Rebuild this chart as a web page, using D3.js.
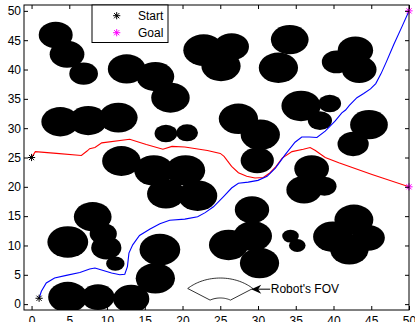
<!DOCTYPE html>
<html>
<head>
<meta charset="utf-8">
<script src="https://cdn.jsdelivr.net/npm/d3@7"></script>
<style>
  body { margin: 0; background: #fff; }
  text { font-family: "Liberation Sans", Arial, sans-serif; font-size: 12px; fill: #000; }
</style>
</head>
<body>
<div id="chart"></div>
<script>
// axis ticks
const xTicks = [0, 5, 10, 15, 20, 25, 30, 35, 40, 45, 50];
const yTicks = [0, 5, 10, 15, 20, 25, 30, 35, 40, 45, 50];

// obstacles (circles in data units)
const obsX = [3.2, 4.7, 6.9, 12.6, 16.4, 18.4, 22.8, 26.5, 25.1, 34.2, 32.7, 42.9, 40.4, 43.4,
  3.8, 7.5, 11.5, 17.8, 20.6, 11.9, 16.2, 20.4, 17.8, 22.0, 27.4, 30.3, 29.9, 35.7, 39.5, 38.2,
  44.7, 42.6, 37.1, 36.1, 38.8, 29.2, 26.1, 29.3, 30.2, 34.3, 35.2, 42.7, 39.9, 44.6, 42.1,
  4.8, 8.1, 9.5, 9.9, 11.1, 17.0, 16.4, 4.8, 8.8, 13.2];
const obsY = [45.9, 42.6, 39.3, 40.1, 38.8, 35.2, 43.3, 43.9, 40.6, 45.1, 40.3, 43.3, 41.3, 40.0,
  31.1, 31.3, 31.8, 29.1, 29.2, 24.4, 22.8, 22.8, 18.8, 18.5, 31.6, 28.9, 24.5, 33.8, 34.2, 31.3,
  30.6, 27.3, 23.1, 19.5, 20.1, 16.1, 10.1, 11.6, 7.0, 11.6, 10.0, 14.4, 11.5, 11.3, 9.3,
  10.6, 14.9, 12.0, 9.6, 6.9, 9.3, 4.4, 1.2, 1.2, 0.9];
const obsR = [2.25, 2.3, 1.9, 2.5, 2.5, 2.55, 2.7, 2.3, 2.6, 2.5, 2.6, 2.35, 1.95, 2.3,
  2.5, 2.5, 2.55, 1.5, 1.45, 2.55, 2.6, 2.6, 2.5, 2.6, 2.6, 2.6, 2.2, 2.6, 1.5, 1.6,
  2.5, 2.07, 2.3, 2.35, 1.6, 2.28, 2.6, 2.55, 2.6, 1.1, 1.1, 2.58, 2.6, 2.2, 2.55,
  2.7, 2.5, 1.8, 2.0, 1.22, 2.7, 2.6, 2.6, 2.2, 2.4];

// blue path (start 1,1 -> goal 50,50)
const blueX = [1, 1.3, 1.95, 3.05, 4.6, 6.4, 7.7, 8.4, 9.5, 10.6, 11.7, 12.35, 12.7, 12.9, 13.4, 14.3,
  15.7, 17.0, 18.3, 20.3, 22.0, 23.0, 24.1, 25.4, 26.5, 27.4, 28.7, 30.0, 31.2, 32.3, 33.6, 34.9,
  35.8, 36.8, 37.8, 38.9, 40.2, 41.1, 41.6, 42.1, 43.1, 44.0, 44.9, 45.6, 46.3, 47.0, 48.0, 49.1, 50];
const blueY = [1, 2.2, 3.6, 4.45, 4.9, 5.4, 6.0, 6.15, 5.75, 5.3, 5.0, 5.1, 6.4, 8.7, 10.1, 11.7,
  12.8, 13.7, 14.3, 14.5, 14.9, 15.6, 16.6, 18.3, 19.8, 20.6, 20.8, 21.1, 21.8, 23.2, 25.5, 27.6,
  28.5, 28.5, 28.4, 29.5, 31.2, 32.6, 33.1, 33.9, 35.2, 35.9, 36.7, 37.6, 39.3, 41.3, 44.3, 47.4, 50];

// red path (start 0,25 -> goal 50,20)
const redX = [0, 0.5, 3.3, 6.6, 7.35, 7.7, 8.4, 9.3, 13.0, 15.2, 17.4, 18.6, 20.3, 23.3, 25.0, 25.5,
  25.9, 26.5, 27.4, 28.5, 29.6, 30.7, 31.6, 32.4, 33.2, 34.5, 36.0, 36.9, 37.6, 38.9, 40.7, 45.1, 50];
const redY = [25, 26.0, 25.7, 25.35, 26.1, 26.5, 26.7, 27.5, 28.1, 27.2, 26.4, 26.9, 26.8, 26.2, 25.7, 25.2,
  24.5, 23.5, 22.4, 21.8, 21.5, 21.6, 22.4, 23.5, 24.9, 26.0, 26.4, 26.7, 26.2, 25.0, 24.1, 22.1, 20];

const startX = [1, 0], startY = [1, 25];
const goalX = [50, 50], goalY = [50, 20];

const legendLabels = ["Start", "Goal"];
const legendColors = ["#000000", "#ff00ff"];

// robot field of view (annular sector)
const fovCenter = [25, -1.65];
const fovOuter = 6.1, fovInner = 2.7;
const fovOuterAngles = [45, 135], fovInnerAngles = [60, 120];
const fovLabel = "Robot's FOV";

const width = 415, height = 322;
const m = { left: 24, right: 409, top: 5, bottom: 310 };

const svg = d3.select("#chart").append("svg")
  .attr("width", width)
  .attr("height", height);

const x = d3.scaleLinear().domain([-1, 50]).range([m.left, m.right]);
const y = d3.scaleLinear().domain([-1, 51]).range([m.bottom, m.top]);

svg.append("clipPath").attr("id", "plotclip")
  .append("rect")
  .attr("x", m.left).attr("y", m.top)
  .attr("width", m.right - m.left).attr("height", m.bottom - m.top);

const plot = svg.append("g").attr("clip-path", "url(#plotclip)");

// obstacles
plot.selectAll("ellipse.obs")
  .data(d3.range(obsX.length))
  .join("ellipse")
  .attr("class", "obs")
  .attr("cx", i => x(obsX[i]))
  .attr("cy", i => y(obsY[i]))
  .attr("rx", i => x(obsR[i]) - x(0))
  .attr("ry", i => y(0) - y(obsR[i]))
  .attr("fill", "#000");

// paths
const line = d3.line().x(d => x(d[0])).y(d => y(d[1]));
plot.append("path")
  .attr("d", line(d3.zip(redX, redY)))
  .attr("fill", "none").attr("stroke", "#ff0000").attr("stroke-width", 1.1);
plot.append("path")
  .attr("d", line(d3.zip(blueX, blueY)))
  .attr("fill", "none").attr("stroke", "#0000ff").attr("stroke-width", 1.1);

// FOV shape
function arcPts(r, a0, a1, n) {
  return d3.range(n + 1).map(k => {
    const a = (a0 + (a1 - a0) * k / n) * Math.PI / 180;
    return [fovCenter[0] + r * Math.cos(a), fovCenter[1] + r * Math.sin(a)];
  });
}
const fovPts = arcPts(fovOuter, fovOuterAngles[0], fovOuterAngles[1], 40)
  .concat(arcPts(fovInner, fovInnerAngles[1], fovInnerAngles[0], 20));
svg.append("path")
  .attr("d", line(fovPts) + "Z")
  .attr("fill", "none").attr("stroke", "#000").attr("stroke-width", 0.8);

// asterisk markers
function asterisk(g, cx, cy, color) {
  const s = 3.6, d = s * 0.72;
  g.append("path")
    .attr("d", `M${cx - s},${cy}L${cx + s},${cy}M${cx},${cy - s}L${cx},${cy + s}` +
      `M${cx - d},${cy - d}L${cx + d},${cy + d}M${cx - d},${cy + d}L${cx + d},${cy - d}`)
    .attr("stroke", color).attr("stroke-width", 1).attr("fill", "none");
}
startX.forEach((v, i) => asterisk(svg, x(v), y(startY[i]), legendColors[0]));
goalX.forEach((v, i) => asterisk(svg, x(v), y(goalY[i]), legendColors[1]));

// axes (MATLAB-style box, ticks inward)
svg.append("g")
  .attr("transform", `translate(0,${m.bottom})`)
  .call(d3.axisBottom(x).tickValues(xTicks).tickSizeInner(-4).tickSizeOuter(0).tickPadding(6))
  .call(g => g.select(".domain").remove());
svg.append("g")
  .attr("transform", `translate(${m.left},0)`)
  .call(d3.axisLeft(y).tickValues(yTicks).tickSizeInner(-4).tickSizeOuter(0).tickPadding(3))
  .call(g => g.select(".domain").remove());
svg.append("g")
  .attr("transform", `translate(0,${m.top})`)
  .call(d3.axisTop(x).tickValues(xTicks).tickSizeInner(-4).tickSizeOuter(0).tickFormat(""))
  .call(g => g.select(".domain").remove());
svg.append("g")
  .attr("transform", `translate(${m.right},0)`)
  .call(d3.axisRight(y).tickValues(yTicks).tickSizeInner(-4).tickSizeOuter(0).tickFormat(""))
  .call(g => g.select(".domain").remove());
svg.selectAll(".tick line").attr("stroke", "#000");
svg.selectAll(".tick text").style("font-size", "12px").style("font-family", "Liberation Sans, Arial, sans-serif");

svg.append("rect")
  .attr("x", m.left).attr("y", m.top)
  .attr("width", m.right - m.left).attr("height", m.bottom - m.top)
  .attr("fill", "none").attr("stroke", "#000").attr("stroke-width", 1);

// legend
const lg = svg.append("g");
lg.append("rect")
  .attr("x", 92).attr("y", 5).attr("width", 76).attr("height", 37.5)
  .attr("fill", "#fff").attr("stroke", "#000").attr("stroke-width", 1);
legendLabels.forEach((lab, i) => {
  const ly = 15.7 + i * 17;
  asterisk(lg, 116.7, ly, legendColors[i]);
  lg.append("text").attr("x", 138).attr("y", ly).attr("dy", "0.35em").text(lab);
});

// annotation arrow + label
const ax = x(29.1), ay = y(2.55);
svg.append("path")
  .attr("d", `M${ax},${ay}L${ax + 10},${ay - 4.5}L${ax + 7},${ay}L${ax + 10},${ay + 4.5}Z`)
  .attr("fill", "#000");
svg.append("line")
  .attr("x1", ax + 7).attr("y1", ay).attr("x2", ax + 19).attr("y2", ay)
  .attr("stroke", "#000").attr("stroke-width", 1);
svg.append("text").attr("x", ax + 19.5).attr("y", ay).attr("dy", "0.35em").text(fovLabel);
</script>
</body>
</html>
